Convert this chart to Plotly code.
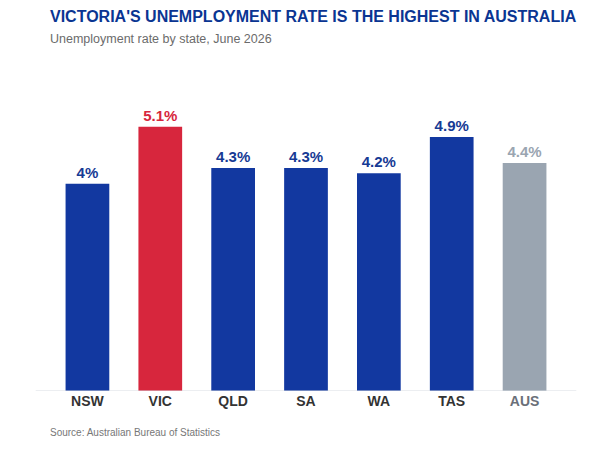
import plotly.graph_objects as go

states = ["NSW", "VIC", "QLD", "SA", "WA", "TAS", "AUS"]
rates = [4.0, 5.1, 4.3, 4.3, 4.2, 4.9, 4.4]
labels = ["4%", "5.1%", "4.3%", "4.3%", "4.2%", "4.9%", "4.4%"]

BLUE = "#1238a0"
RED = "#d7263d"
GREY = "#9aa5b1"

bar_colors = [RED if s == "VIC" else GREY if s == "AUS" else BLUE for s in states]
text_colors = [RED if s == "VIC" else GREY if s == "AUS" else "#163a94" for s in states]
tick_text = [
    f"<span style='color:#6b7079'><b>{s}</b></span>" if s == "AUS" else f"<b>{s}</b>"
    for s in states
]

fig = go.Figure()

fig.add_trace(
    go.Bar(
        x=states,
        y=rates,
        marker=dict(color=bar_colors, line=dict(width=0)),
        text=labels,
        textposition="outside",
        textfont=dict(family="Liberation Sans, Arial", size=15, color=text_colors),
        texttemplate="<b>%{text}</b>",
        cliponaxis=False,
        hoverinfo="skip",
    )
)

# light baseline running a bit wider than the bars
fig.add_shape(
    type="line", xref="paper", yref="y",
    x0=-0.03, x1=1.03, y0=0, y1=0,
    line=dict(color="#d9dde3", width=1),
)

fig.update_layout(
    width=600,
    height=450,
    paper_bgcolor="white",
    plot_bgcolor="white",
    margin=dict(l=51, r=39, t=80, b=59),
    bargap=0.4,
    showlegend=False,
    font=dict(family="Liberation Sans, Arial", color="#333333"),
    xaxis=dict(
        tickvals=states,
        ticktext=tick_text,
        tickfont=dict(size=14, color="#333333"),
        showgrid=False,
        showline=False,
        ticks="",
    ),
    yaxis=dict(range=[0, 6], visible=False, showgrid=False),
)

fig.add_annotation(
    xref="paper", yref="paper", x=0, y=1.203, xanchor="left", yanchor="middle",
    xshift=-3,
    text="<b>VICTORIA'S UNEMPLOYMENT RATE IS THE HIGHEST IN AUSTRALIA</b>",
    showarrow=False, font=dict(size=16, color="#0a3592"),
)
fig.add_annotation(
    xref="paper", yref="paper", x=0, y=1.132, xanchor="left", yanchor="middle",
    xshift=-3,
    text="Unemployment rate by state, June 2026",
    showarrow=False, font=dict(size=12.5, color="#6b6b6b"),
)
fig.add_annotation(
    xref="paper", yref="paper", x=0, y=-0.135, xanchor="left", yanchor="middle",
    xshift=-3,
    text="Source: Australian Bureau of Statistics",
    showarrow=False, font=dict(size=10, color="#777777"),
)

fig.write_html(
    "out.html",
    config={"displayModeBar": False},
    post_script="document.body.style.margin='0';document.body.style.overflow='hidden';",
)
